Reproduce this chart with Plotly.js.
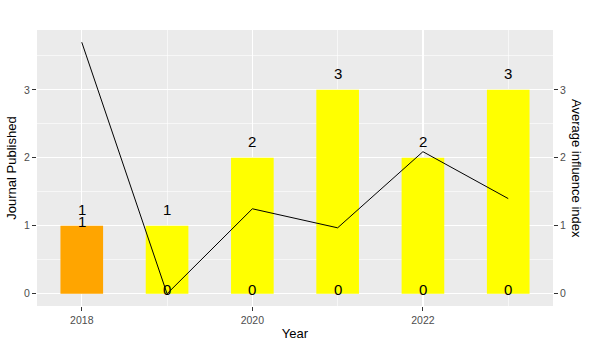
<!DOCTYPE html>
<html>
<head>
<meta charset="utf-8">
<script src="https://cdn.plot.ly/plotly-3.0.1.min.js"></script>
<style>
  html, body { margin: 0; padding: 0; background: #fff; }
  #chart { width: 592px; height: 350px; }
</style>
</head>
<body>
<div id="chart"></div>
<script>
var years = [2018, 2019, 2020, 2021, 2022, 2023];
var journals = [1, 1, 2, 3, 2, 3];
var influence = [3.70, 0.00, 1.25, 0.97, 2.09, 1.40];
var baseLabels = [1, 0, 0, 0, 0, 0];
var barColors = ['#FFA500', '#FFFF00', '#FFFF00', '#FFFF00', '#FFFF00', '#FFFF00'];

var bars = {
  type: 'bar',
  x: years,
  y: journals,
  width: 0.5,
  marker: { color: barColors },
  hoverinfo: 'x+y',
  showlegend: false
};

var line = {
  type: 'scatter',
  mode: 'lines',
  x: years,
  y: influence,
  yaxis: 'y2',
  line: { color: '#000000', width: 1 },
  showlegend: false
};

var labelFont = { family: 'Liberation Sans, Arial, sans-serif', size: 15, color: '#000000' };

var annotations = [];
years.forEach(function (yr, i) {
  annotations.push({
    x: yr, y: journals[i], text: String(journals[i]),
    showarrow: false, yanchor: 'middle', yshift: 16, font: labelFont
  });
  annotations.push({
    x: yr, y: baseLabels[i], text: String(baseLabels[i]),
    showarrow: false, yanchor: 'middle', yshift: 4, font: labelFont
  });
});

annotations.push({
  xref: 'paper', yref: 'paper', x: 1.065, y: 0.5,
  text: 'Average influence index', textangle: 90, showarrow: false,
  font: { family: 'Liberation Sans, Arial, sans-serif', size: 13, color: '#000000' }
});

var axisFont = { family: 'Liberation Sans, Arial, sans-serif', size: 10.5, color: '#4D4D4D' };
var yRange = [-0.18, 3.88];

var layout = {
  width: 592,
  height: 350,
  margin: { l: 37, r: 39, t: 30, b: 44 },
  paper_bgcolor: '#FFFFFF',
  plot_bgcolor: '#EBEBEB',
  font: { family: 'Liberation Sans, Arial, sans-serif' },
  xaxis: {
    range: [2017.475, 2023.525],
    tickvals: [2018, 2020, 2022],
    ticktext: ['2018', '2020', '2022'],
    showgrid: true, gridcolor: '#FFFFFF', gridwidth: 1.2,
    minor: { tickvals: [2019, 2021, 2023], showgrid: true, gridcolor: '#FFFFFF', gridwidth: 0.6, ticks: '' },
    zeroline: false, showline: false,
    ticks: 'outside', ticklen: 4, tickcolor: '#333333', tickwidth: 1,
    tickfont: axisFont,
    title: { text: 'Year', font: { size: 13, color: '#000000' }, standoff: 4 }
  },
  yaxis: {
    range: yRange,
    tickvals: [0, 1, 2, 3],
    showgrid: true, gridcolor: '#FFFFFF', gridwidth: 1.2,
    minor: { tickvals: [0.5, 1.5, 2.5, 3.5], showgrid: true, gridcolor: '#FFFFFF', gridwidth: 0.6, ticks: '' },
    zeroline: false, showline: false,
    ticks: 'outside', ticklen: 4, tickcolor: '#333333', tickwidth: 1,
    tickfont: axisFont,
    title: { text: 'Journal Published', font: { size: 13, color: '#000000' }, standoff: 4 }
  },
  yaxis2: {
    range: yRange,
    overlaying: 'y',
    side: 'right',
    tickvals: [0, 1, 2, 3],
    showgrid: false, zeroline: false, showline: false,
    ticks: 'outside', ticklen: 4, tickcolor: '#333333', tickwidth: 1,
    tickfont: axisFont
  },
  annotations: annotations
};

Plotly.newPlot('chart', [bars, line], layout, { displayModeBar: false, staticPlot: true });
</script>
</body>
</html>
